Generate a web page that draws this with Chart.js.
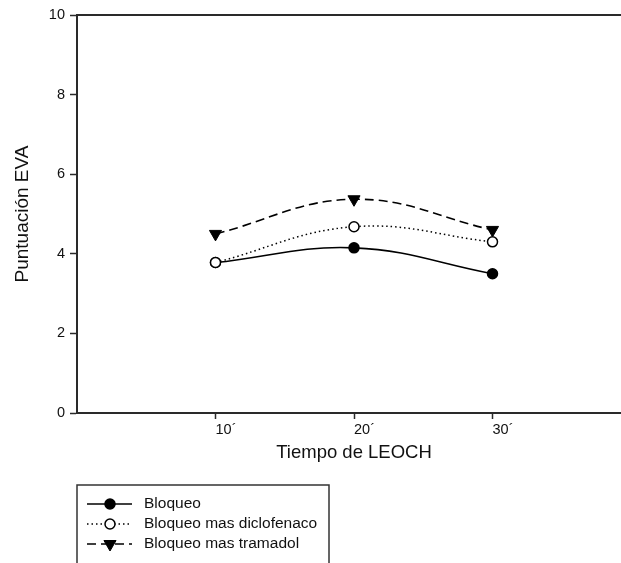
<!DOCTYPE html>
<html>
<head>
<meta charset="utf-8">
<script src="https://cdn.jsdelivr.net/npm/chart.js@4.4.1/dist/chart.umd.min.js"></script>
<style>
  html, body { margin: 0; padding: 0; background: #fff; overflow: hidden; }
</style>
</head>
<body>
<canvas id="myChart" width="640" height="563"></canvas>
<script>
// Data
const timePoints = [10, 20, 30];
const timeLabels = ['10´', '20´', '30´'];
const yTicks = [0, 2, 4, 6, 8, 10];
const seriesNames = ['Bloqueo', 'Bloqueo mas diclofenaco', 'Bloqueo mas tramadol'];
const bloqueo = [3.78, 4.15, 3.5];
const diclofenaco = [3.78, 4.68, 4.3];
const tramadol = [4.5, 5.37, 4.6];

const FONT = '"Liberation Sans", Arial, sans-serif';
const AXIS_COLOR = '#2a2a2a';
Chart.defaults.font.family = FONT;
Chart.defaults.color = '#111';

function toPoints(values) {
  return values.map((v, i) => ({ x: timePoints[i], y: v }));
}

// draw the marker of a dataset (legend only)
function drawMarker(ctx, ds, x, y) {
  ctx.setLineDash([]);
  ctx.lineWidth = ds.pointBorderWidth;
  ctx.strokeStyle = ds.pointBorderColor;
  ctx.fillStyle = ds.pointBackgroundColor;
  ctx.beginPath();
  if (ds.pointStyle === 'triangle') {
    const r = ds.pointRadius;
    ctx.moveTo(x - r * 0.866, y - r * 0.5);
    ctx.lineTo(x + r * 0.866, y - r * 0.5);
    ctx.lineTo(x, y + r);
    ctx.closePath();
  } else {
    ctx.arc(x, y, ds.pointRadius, 0, Math.PI * 2);
  }
  ctx.fill();
  ctx.stroke();
}

// boxed legend under the chart, like the original
const boxLegend = {
  id: 'boxLegend',
  afterDraw(chart) {
    const ctx = chart.ctx;
    const left = chart.chartArea.left;
    ctx.save();
    ctx.setLineDash([]);
    ctx.strokeStyle = '#333';
    ctx.lineWidth = 1.5;
    ctx.strokeRect(left, 485, 252, 100);
    chart.data.datasets.forEach((ds, i) => {
      const y = 504 + i * 20;
      ctx.strokeStyle = ds.borderColor;
      ctx.lineWidth = ds.borderWidth;
      ctx.setLineDash(ds.borderDash || []);
      ctx.beginPath();
      ctx.moveTo(left + 10, y);
      ctx.lineTo(left + 55, y);
      ctx.stroke();
      drawMarker(ctx, ds, left + 33, y);
      ctx.fillStyle = '#111';
      ctx.font = '15.5px ' + FONT;
      ctx.textBaseline = 'middle';
      ctx.fillText(ds.label, left + 67, y);
    });
    ctx.restore();
  }
};

const ctx = document.getElementById('myChart').getContext('2d');
new Chart(ctx, {
  type: 'line',
  data: {
    datasets: [
      {
        label: seriesNames[0],
        data: toPoints(bloqueo),
        borderColor: '#000',
        borderWidth: 1.6,
        tension: 0.4,
        pointStyle: 'circle',
        pointRadius: 5,
        pointBorderWidth: 1.5,
        pointBorderColor: '#000',
        pointBackgroundColor: '#000',
        order: 1
      },
      {
        label: seriesNames[1],
        data: toPoints(diclofenaco),
        borderColor: '#000',
        borderWidth: 1.5,
        borderDash: [1.5, 3],
        tension: 0.4,
        pointStyle: 'circle',
        pointRadius: 5,
        pointBorderWidth: 1.5,
        pointBorderColor: '#000',
        pointBackgroundColor: '#fff',
        order: 0
      },
      {
        label: seriesNames[2],
        data: toPoints(tramadol),
        borderColor: '#000',
        borderWidth: 1.6,
        borderDash: [9, 5],
        tension: 0.4,
        pointStyle: 'triangle',
        pointRotation: 180,
        pointRadius: 7,
        pointBorderWidth: 1,
        pointBorderColor: '#000',
        pointBackgroundColor: '#000',
        order: 2
      }
    ]
  },
  options: {
    responsive: false,
    animation: false,
    devicePixelRatio: 1,
    layout: { padding: { left: 0, top: 15, right: 9, bottom: 99 } },
    plugins: {
      legend: { display: false },
      tooltip: { enabled: false }
    },
    scales: {
      x: {
        type: 'linear',
        position: 'bottom',
        min: 0,
        max: 40,
        afterBuildTicks: s => { s.ticks = timePoints.map(v => ({ value: v })); },
        ticks: {
          autoSkip: false,
          maxRotation: 0,
          align: 'start',
          padding: 2,
          font: { size: 14.5 },
          callback: (value, index) => timeLabels[index]
        },
        grid: { drawOnChartArea: false, tickLength: 6, tickColor: AXIS_COLOR, tickWidth: 1.5 },
        border: { color: AXIS_COLOR, width: 2 },
        title: { display: true, text: 'Tiempo de LEOCH', font: { size: 18.5 }, padding: { top: 0, bottom: 0 } },
        afterFit: s => { s.height = 51; }
      },
      xTop: {
        type: 'linear',
        position: 'top',
        min: 0,
        max: 40,
        ticks: { display: false },
        grid: { display: false, drawTicks: false },
        border: { display: true, color: AXIS_COLOR, width: 2 },
        afterFit: s => { s.height = 0; }
      },
      y: {
        min: 0,
        max: 10,
        afterBuildTicks: s => { s.ticks = yTicks.map(v => ({ value: v })); },
        ticks: { padding: 5, font: { size: 14.5 } },
        grid: { drawOnChartArea: false, tickLength: 7, tickColor: AXIS_COLOR, tickWidth: 1.5 },
        border: { color: AXIS_COLOR, width: 2 },
        title: { display: true, text: 'Puntuación EVA', font: { size: 19 }, padding: { top: 11, bottom: 0 } },
        afterFit: s => { s.width = 77; }
      }
    }
  },
  plugins: [boxLegend]
});
</script>
</body>
</html>
